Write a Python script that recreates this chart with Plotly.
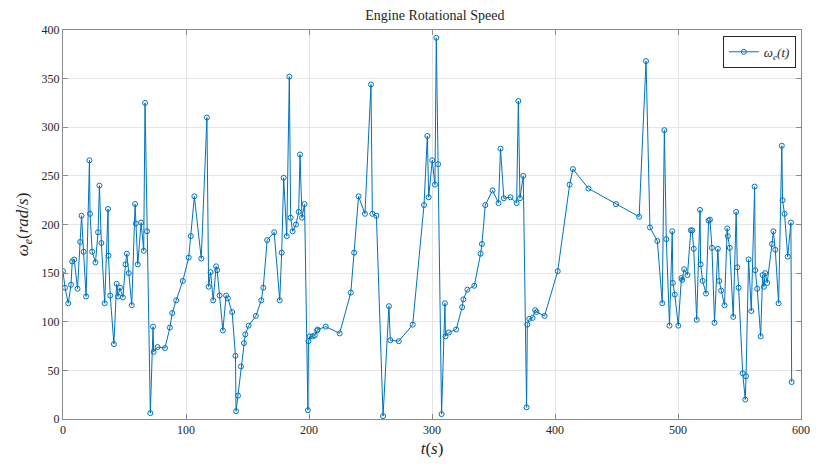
import plotly.graph_objects as go

# Sample times (s) and engine rotational speed (rad/s)
t_s = [
    0, 1.6, 4.3, 6.5, 7.5, 9.1, 11.8, 14, 15.1, 16.7, 18.8, 21.5, 22, 23.7, 26.4, 28.5,
    29.6, 31.2, 33.9, 36.6, 37.0, 38.4, 41.4, 43.6, 44.7, 46.3, 48.7, 50.8, 51.9, 53.5,
    55.9, 58.6, 59.2, 60.8, 63.5, 65.6, 66.7, 68.3, 71, 73.2, 73.7, 76.9, 82.9, 86.9,
    88.8, 92, 97.4, 102.2, 103.9, 106.8, 112.4, 117, 118.4, 120, 122.1, 124.5, 125.3,
    127.3, 130, 132.6, 134, 137.5, 140.2, 140.7, 142.3, 144.7, 147.1, 148.2, 150.9,
    156.8, 161.2, 162.8, 166, 171.7, 176.2, 177.8, 179.4, 181.9, 184, 185.1, 186.7,
    189.4, 191.6, 192.7, 194.3, 196.4, 199.1, 199.6, 200.7, 202.9, 204.7, 206.6, 207,
    213.6, 224.9, 234, 236.7, 240.3, 245.5, 250.4, 251.5, 254.8, 260.2, 265, 266.1,
    273, 284.3, 293.5, 296.2, 297.3, 300.2, 302.4, 303.5, 305, 307.8, 310.5, 311,
    313.7, 319.6, 324.5, 325.5, 328.8, 334.4, 339.5, 340.6, 343.3, 349.2, 354.1,
    355.7, 358.4, 363.8, 368.8, 370.2, 371.5, 374.2, 376.9, 377.5, 379.1, 381.8,
    383.9, 385, 391.5, 402.2, 411.9, 414.6, 427.2, 449.6, 468.4, 474, 477.2, 483.2,
    487.2, 488.9, 490.5, 493.1, 495.3, 495.8, 497.4, 500.2, 502.8, 503.4, 505, 507.7,
    510.4, 511.5, 512.8, 515.2, 517.9, 518.4, 520, 522.8, 524.9, 526, 527.6, 529.7,
    532.4, 533.5, 535.1, 537.8, 540, 540.5, 542.1, 544.9, 547.3, 548.2, 549.3, 552.6,
    554.7, 555.3, 557.4, 559.6, 562.3, 562.8, 564.4, 567.2, 568.8, 569.8, 570.9,
    572.5, 576.4, 577.5, 579.1, 581.8, 584.4, 585, 586.6, 589.2, 591.8, 592.4,
]
omega_e = [
    152, 135, 119, 138, 162, 164, 134, 182, 209, 172, 126, 266, 211, 172, 161, 192,
    240, 181, 119, 216, 168, 127, 77, 139, 126, 135, 125, 159, 170, 150,
    117, 221, 201, 159, 202, 173, 325, 193, 6, 95, 69, 74, 73, 94,
    109, 122, 142, 166, 188, 229, 165, 310, 136, 151, 122, 157, 153,
    127, 91, 127, 124, 110, 65, 8, 24, 54, 78, 87, 96,
    106, 122, 135, 184, 192, 122, 171, 248, 188, 352, 207, 193,
    200, 213, 272, 207, 221, 9, 80, 85, 85, 86, 91, 92,
    95, 88, 130, 171, 229, 211, 344, 211, 209, 3, 116, 81,
    80, 97, 220, 291, 228, 266, 241, 392, 262, 5, 119, 85,
    89, 92, 115, 123, 133, 137, 170, 180, 220, 235, 222,
    278, 227, 228, 222, 327, 227, 250, 12, 97, 103, 104,
    112, 110, 106, 152, 241, 257, 237, 221, 208, 368, 197, 183,
    119, 297, 185, 96, 193, 140, 128, 96, 145, 143, 154, 148,
    194, 194, 175, 102, 215, 159, 142, 129, 204, 205, 176, 99,
    175, 142, 132, 117, 196, 188, 176, 105, 213, 156, 135, 47,
    20, 44, 164, 111, 239, 153, 134, 85, 148, 136, 150,
    140, 180, 193, 174, 119, 281, 225, 211, 167, 202, 38,
]

x_ticks = [0, 100, 200, 300, 400, 500, 600]
y_ticks = [0, 50, 100, 150, 200, 250, 300, 350, 400]

blue = "#0072BD"
serif = "Liberation Serif"
axis_gray = "#8a8a8a"
grid_gray = "#e5e5e5"
text_color = "#262626"

fig = go.Figure()
fig.add_trace(go.Scatter(
    x=t_s, y=omega_e,
    mode="lines+markers",
    name="<i>ω<sub>e</sub>(t)</i>",
    line=dict(color=blue, width=1),
    marker=dict(symbol="circle-open", size=5, color=blue, line=dict(width=1, color=blue)),
))

axis_common = dict(
    showline=True, linecolor=axis_gray, linewidth=1, mirror="ticks",
    ticks="inside", ticklen=5, tickcolor=axis_gray, tickwidth=1,
    showgrid=True, gridcolor=grid_gray, gridwidth=1,
    zeroline=False,
    tickfont=dict(family=serif, size=12, color=text_color),
)

fig.update_layout(
    width=822, height=466,
    margin=dict(l=63, r=14, t=30, b=44),
    paper_bgcolor="white", plot_bgcolor="white",
    title=dict(text="Engine Rotational Speed", x=0.529, xanchor="center",
               y=0.968, yanchor="middle",
               font=dict(family=serif, size=14, color=text_color)),
    xaxis=dict(range=[0, 600], tickvals=x_ticks,
               title=dict(text="<i>t</i>(<i>s</i>)", standoff=5,
                          font=dict(family=serif, size=17, color=text_color)),
               **axis_common),
    yaxis=dict(range=[0, 400], tickvals=y_ticks,
               title=dict(text="<i>ω<sub>e</sub></i>(<i>rad</i>/<i>s</i>)", standoff=8,
                          font=dict(family=serif, size=17, color=text_color)),
               **axis_common),
    legend=dict(x=0.993, y=0.985, xanchor="right", yanchor="top",
                bordercolor=text_color, borderwidth=1, bgcolor="white",
                font=dict(family=serif, size=13, color=text_color),
                itemwidth=30, tracegroupgap=0),
    showlegend=True,
)

fig.write_html("out.html")
